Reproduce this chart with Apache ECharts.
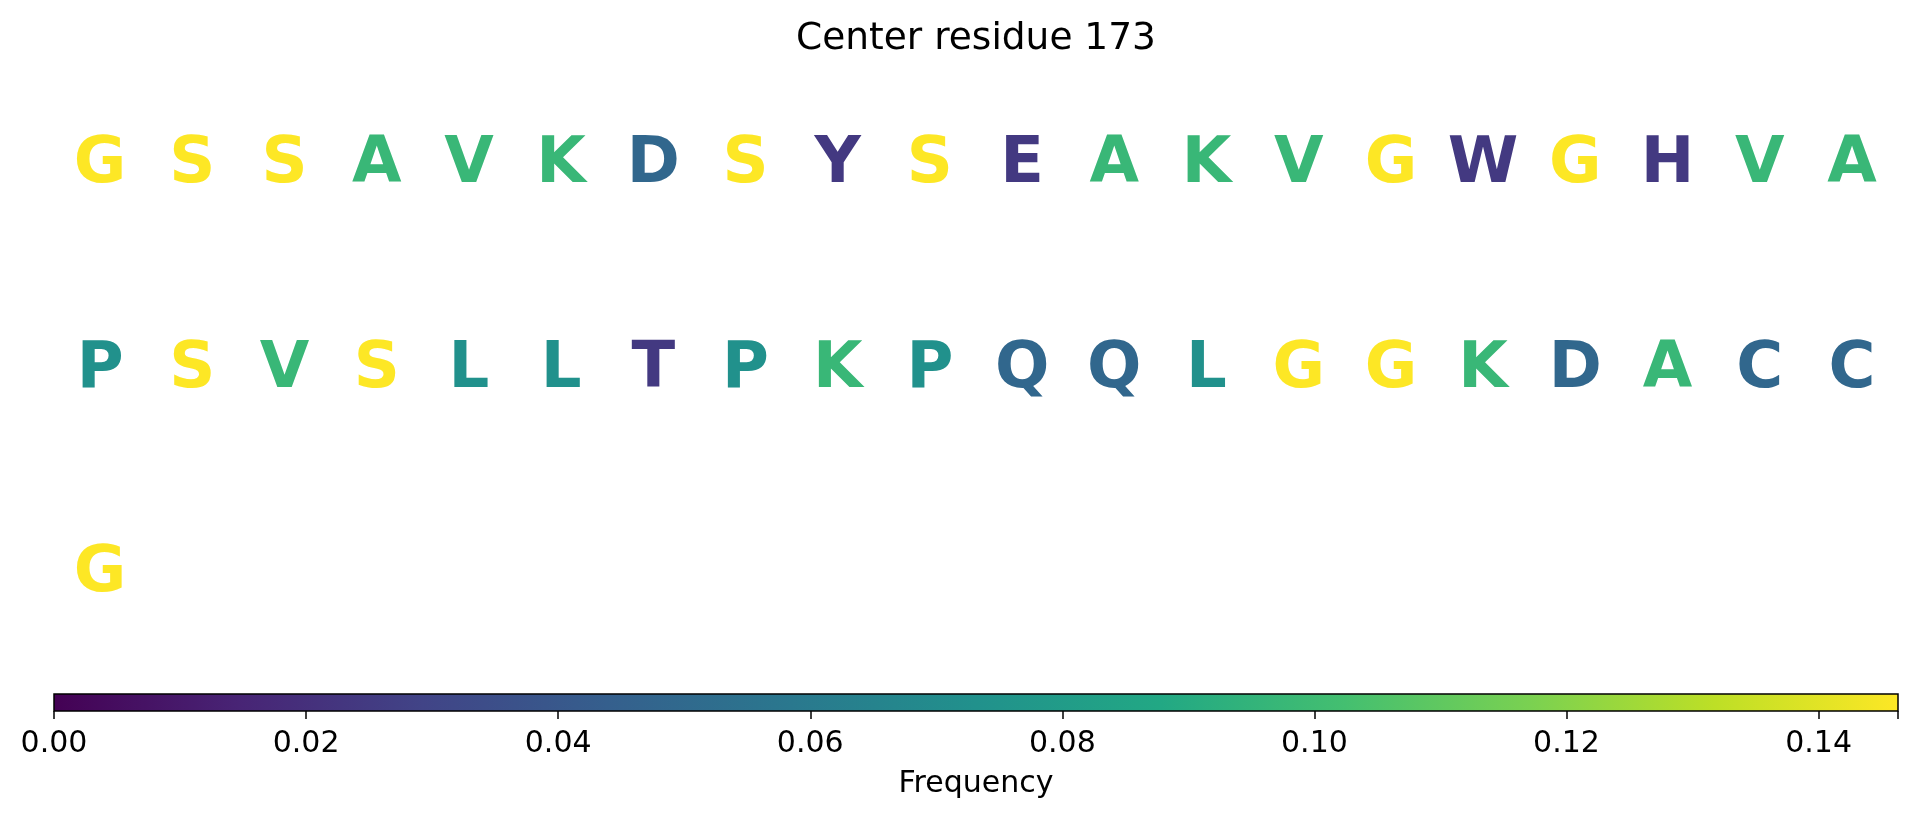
<!DOCTYPE html>
<html>
<head>
<meta charset="utf-8">
<script src="https://cdn.jsdelivr.net/npm/echarts@6/dist/echarts.min.js"></script>
<style>
html,body{margin:0;padding:0;background:#fff;}
#chart{width:1917px;height:822px;}
</style>
</head>
<body>
<div id="chart"></div>
<script>
// Letters per row (20 columns per row)
const row1Letters = ['G','S','S','A','V','K','D','S','Y','S','E','A','K','V','G','W','G','H','V','A'];
const row2Letters = ['P','S','V','S','L','L','T','P','K','P','Q','Q','L','G','G','K','D','A','C','C'];
const row3Letters = ['G'];

const row1Freq = [0.1463,0.1463,0.1463,0.0976,0.0976,0.0976,0.0488,0.1463,0.0244,0.1463,0.0244,0.0976,0.0976,0.0976,0.1463,0.0244,0.1463,0.0244,0.0976,0.0976];
const row2Freq = [0.0732,0.1463,0.0976,0.1463,0.0732,0.0732,0.0244,0.0732,0.0976,0.0732,0.0488,0.0488,0.0732,0.1463,0.1463,0.0976,0.0488,0.0976,0.0488,0.0488];
const row3Freq = [0.1463];

const freqMax = 0.1463;
const colorbarTicks = [0.00,0.02,0.04,0.06,0.08,0.10,0.12,0.14];

const viridis = ['#440154','#482475','#414487','#355f8d','#2a788e','#21918c','#22a884','#44bf70','#7ad151','#bddf26','#fde725'];

const rowsLetters = [row1Letters,row2Letters,row3Letters];
const rowsFreq = [row1Freq,row2Freq,row3Freq];
const letters = [];
const cellData = [];
rowsLetters.forEach((row, r) => {
  row.forEach((ch, c) => {
    letters.push(ch);
    cellData.push([c, r, rowsFreq[r][c]]);
  });
});

const FONT = '"DejaVu Sans", sans-serif';
const chart = echarts.init(document.getElementById('chart'), null, {renderer:'canvas'});

const gradStops = viridis.map((c,i)=>({offset:i/(viridis.length-1), color:c}));

chart.setOption({
  animation:false,
  backgroundColor:'#ffffff',
  title:{
    text:'Center residue 173',
    left:976,
    textAlign:'center',
    top:20.5,
    padding:0,
    textStyle:{fontFamily:FONT,fontSize:37.5,fontWeight:'normal',color:'#000',lineHeight:37.5}
  },
  grid:[
    {left:54, width:1844, top:63.5, height:613, show:false},
    {left:54, width:1844, top:694, height:17, show:true,
     backgroundColor:new echarts.graphic.LinearGradient(0,0,1,0,gradStops),
     borderColor:'#000', borderWidth:1.5}
  ],
  xAxis:[
    {gridIndex:0, type:'value', min:-0.5, max:19.5, show:false},
    {gridIndex:1, type:'value', min:0, max:freqMax, interval:0.02,
     axisLine:{show:false}, splitLine:{show:false},
     axisTick:{show:true, length:8, lineStyle:{color:'#000', width:1.5}},
     axisLabel:{fontFamily:FONT, fontSize:30, color:'#000', margin:18,
       formatter:(v)=> colorbarTicks.some(t=>Math.abs(t-v)<1e-9) ? v.toFixed(2) : ''},
     name:'Frequency', nameLocation:'middle', nameGap:58,
     nameTextStyle:{fontFamily:FONT, fontSize:30, color:'#000'}
    }
  ],
  yAxis:[
    {gridIndex:0, type:'value', min:-0.5, max:2.5, inverse:true, show:false},
    {gridIndex:1, type:'value', min:0, max:1, show:false}
  ],
  visualMap:{
    type:'continuous', show:false, min:0, max:freqMax, dimension:2, seriesIndex:0,
    inRange:{color:viridis}
  },
  series:[
    {
      type:'custom',
      xAxisIndex:0, yAxisIndex:0,
      data:cellData,
      renderItem:function(params, api){
        const p = api.coord([api.value(0), api.value(1)]);
        return {
          type:'text',
          x:p[0], y:p[1],
          style:{
            text:letters[params.dataIndex],
            fill:api.visual('color'),
            fontFamily:FONT, fontSize:64, fontWeight:'bold',
            align:'center', verticalAlign:'middle'
          }
        };
      }
    }
  ]
});
</script>
</body>
</html>
